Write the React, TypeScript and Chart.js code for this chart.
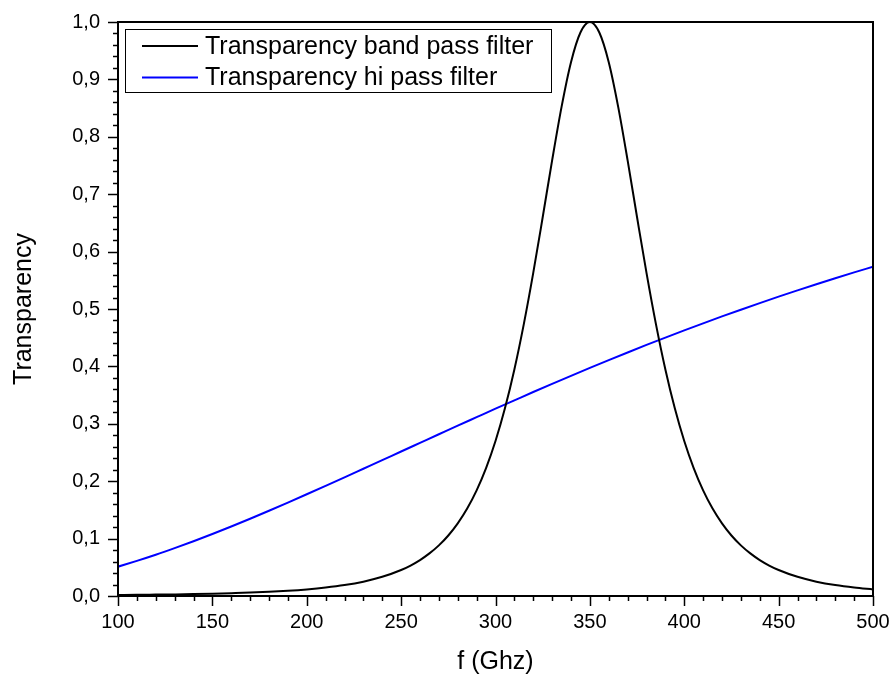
import React, { useEffect, useRef } from "react";
import { Chart, registerables } from "chart.js";

Chart.register(...registerables);

// Frequency samples (GHz) and transparency of the band pass filter
const bandFreq = [
  100, 110, 120, 130, 140, 150, 160, 170, 180, 190, 200, 210, 220, 230, 240,
  250, 255, 260, 265, 270, 275, 280, 285, 290, 295, 300, 305, 310, 315, 320,
  325, 330, 335, 340, 345, 350, 355, 360, 365, 370, 375, 380, 385, 390, 395,
  400, 405, 410, 415, 420, 425, 430, 435, 440, 445, 450, 460, 470, 480, 490, 500,
];
const bandPass = [
  0.0017, 0.002, 0.0024, 0.0028, 0.0033, 0.004, 0.0049, 0.0059, 0.0073, 0.0091,
  0.0115, 0.0147, 0.019, 0.025, 0.0334, 0.0453, 0.0531, 0.0626, 0.0742, 0.0882,
  0.1054, 0.1265, 0.1523, 0.184, 0.2228, 0.27, 0.3269, 0.3947, 0.4737, 0.5629,
  0.6598, 0.7589, 0.8522, 0.93, 0.9817, 1.0, 0.9817, 0.93, 0.8522, 0.7589,
  0.6598, 0.5629, 0.4737, 0.3947, 0.3269, 0.27, 0.2228, 0.184, 0.1523, 0.1265,
  0.1054, 0.0882, 0.0742, 0.0626, 0.0531, 0.0453, 0.0334, 0.025, 0.019, 0.0147,
  0.0115,
];

// Frequency samples (GHz) and transparency of the high pass filter
const hiFreq = [
  100, 110, 120, 130, 140, 150, 160, 170, 180, 190, 200, 210, 220, 230, 240,
  250, 260, 270, 280, 290, 300, 310, 320, 330, 340, 350, 360, 370, 380, 390,
  400, 410, 420, 430, 440, 450, 460, 470, 480, 490, 500,
];
const hiPass = [
  0.0511, 0.0612, 0.0719, 0.0834, 0.0954, 0.108, 0.1211, 0.1346, 0.1485, 0.1627,
  0.1772, 0.1919, 0.2067, 0.2217, 0.2367, 0.2518, 0.2668, 0.2818, 0.2968,
  0.3116, 0.3264, 0.3409, 0.3554, 0.3696, 0.3836, 0.3974, 0.411, 0.4243,
  0.4374, 0.4502, 0.4627, 0.475, 0.4871, 0.4988, 0.5103, 0.5216, 0.5325,
  0.5432, 0.5536, 0.5638, 0.5737,
];

const seriesLabels = ["Transparency band pass filter", "Transparency hi pass filter"];
const seriesColors = ["#000000", "#0000ff"];

const X_MIN = 100;
const X_MAX = 500;
const X_MAJOR = 50;
const X_MINOR = 10;
const Y_MIN = 0;
const Y_MAX = 1;
const Y_MAJOR = 0.1;
const Y_MINOR = 0.02;

const FONT = "'Liberation Sans', Arial, sans-serif";

// Frame around the plot plus outward major/minor tick marks on the left and bottom axes
const frameTicksPlugin = {
  id: "frameTicks",
  afterDatasetsDraw(chart: any) {
    const { ctx, chartArea } = chart;
    const xs = chart.scales.x;
    const ys = chart.scales.y;
    ctx.save();
    ctx.strokeStyle = "#000";
    ctx.lineWidth = 1.5;
    const nx = Math.round((X_MAX - X_MIN) / X_MINOR);
    const perX = Math.round(X_MAJOR / X_MINOR);
    for (let i = 0; i <= nx; i++) {
      const px = Math.round(xs.getPixelForValue(X_MIN + i * X_MINOR)) + 0.5;
      const len = i % perX === 0 ? 10 : 5;
      ctx.beginPath();
      ctx.moveTo(px, chartArea.bottom);
      ctx.lineTo(px, chartArea.bottom + len);
      ctx.stroke();
    }
    const ny = Math.round((Y_MAX - Y_MIN) / Y_MINOR);
    const perY = Math.round(Y_MAJOR / Y_MINOR);
    for (let i = 0; i <= ny; i++) {
      const py = Math.round(ys.getPixelForValue(Y_MIN + i * Y_MINOR)) + 0.5;
      const len = i % perY === 0 ? 10 : 5;
      ctx.beginPath();
      ctx.moveTo(chartArea.left, py);
      ctx.lineTo(chartArea.left - len, py);
      ctx.stroke();
    }
    ctx.lineWidth = 2;
    ctx.strokeRect(
      chartArea.left,
      chartArea.top,
      chartArea.right - chartArea.left,
      chartArea.bottom - chartArea.top
    );
    ctx.restore();
  },
};

// Boxed legend in the upper-left corner of the plot
const boxLegendPlugin = {
  id: "boxLegend",
  afterDraw(chart: any) {
    const { ctx, chartArea } = chart;
    const left = chartArea.left + 7;
    const top = chartArea.top + 7;
    const width = 426;
    const height = 63;
    ctx.save();
    ctx.fillStyle = "#fff";
    ctx.fillRect(left, top, width, height);
    ctx.strokeStyle = "#000";
    ctx.lineWidth = 1;
    ctx.strokeRect(left + 0.5, top + 0.5, width, height);
    ctx.font = `25px ${FONT}`;
    ctx.textBaseline = "middle";
    ctx.textAlign = "left";
    chart.data.datasets.forEach((ds: any, i: number) => {
      const y = top + 17 + i * 31.5;
      ctx.strokeStyle = ds.borderColor;
      ctx.lineWidth = 2;
      ctx.beginPath();
      ctx.moveTo(left + 17, y);
      ctx.lineTo(left + 73, y);
      ctx.stroke();
      ctx.fillStyle = "#000";
      ctx.fillText(ds.label, left + 80, y + 1);
    });
    ctx.restore();
  },
};

export default function App() {
  const canvasRef = useRef<HTMLCanvasElement | null>(null);

  useEffect(() => {
    if (!canvasRef.current) return;
    const chart = new Chart(canvasRef.current, {
      type: "line",
      data: {
        datasets: [
          {
            label: seriesLabels[0],
            data: bandFreq.map((f, i) => ({ x: f, y: bandPass[i] })),
            borderColor: seriesColors[0],
            borderWidth: 2,
            pointRadius: 0,
            cubicInterpolationMode: "monotone",
            fill: false,
          },
          {
            label: seriesLabels[1],
            data: hiFreq.map((f, i) => ({ x: f, y: hiPass[i] })),
            borderColor: seriesColors[1],
            borderWidth: 2,
            pointRadius: 0,
            cubicInterpolationMode: "monotone",
            fill: false,
          },
        ],
      },
      options: {
        animation: false,
        responsive: true,
        maintainAspectRatio: false,
        layout: { padding: { top: 22, right: 22, left: 0, bottom: 0 } },
        plugins: {
          legend: { display: false },
          tooltip: { enabled: false },
        },
        scales: {
          x: {
            type: "linear",
            min: X_MIN,
            max: X_MAX,
            grid: { display: false, drawTicks: false },
            border: { display: false },
            ticks: {
              stepSize: X_MAJOR,
              color: "#000",
              padding: 14,
              font: { family: FONT, size: 20 },
              maxRotation: 0,
            },
            title: {
              display: true,
              text: "f (Ghz)",
              color: "#000",
              font: { family: FONT, size: 25 },
              padding: { top: 0, bottom: 0 },
            },
            afterFit: (s: any) => {
              s.height = 81;
              s.paddingLeft = 0;
              s.paddingRight = 0;
            },
          },
          y: {
            type: "linear",
            min: Y_MIN,
            max: Y_MAX,
            grid: { display: false, drawTicks: false },
            border: { display: false },
            ticks: {
              stepSize: Y_MAJOR,
              color: "#000",
              padding: 18,
              font: { family: FONT, size: 20 },
              callback: (v: any) => Number(v).toFixed(1).replace(".", ","),
            },
            title: {
              display: true,
              text: "Transparency",
              color: "#000",
              font: { family: FONT, size: 25 },
              padding: { top: 9, bottom: 0 },
            },
            afterFit: (s: any) => {
              s.width = 118;
              s.paddingTop = 0;
              s.paddingBottom = 0;
            },
          },
        },
      },
      plugins: [frameTicksPlugin, boxLegendPlugin],
    });
    return () => chart.destroy();
  }, []);

  return (
    <div
      style={{
        position: "fixed",
        left: 0,
        top: 0,
        width: 895,
        height: 677,
        background: "#fff",
      }}
    >
      <canvas ref={canvasRef} />
    </div>
  );
}
